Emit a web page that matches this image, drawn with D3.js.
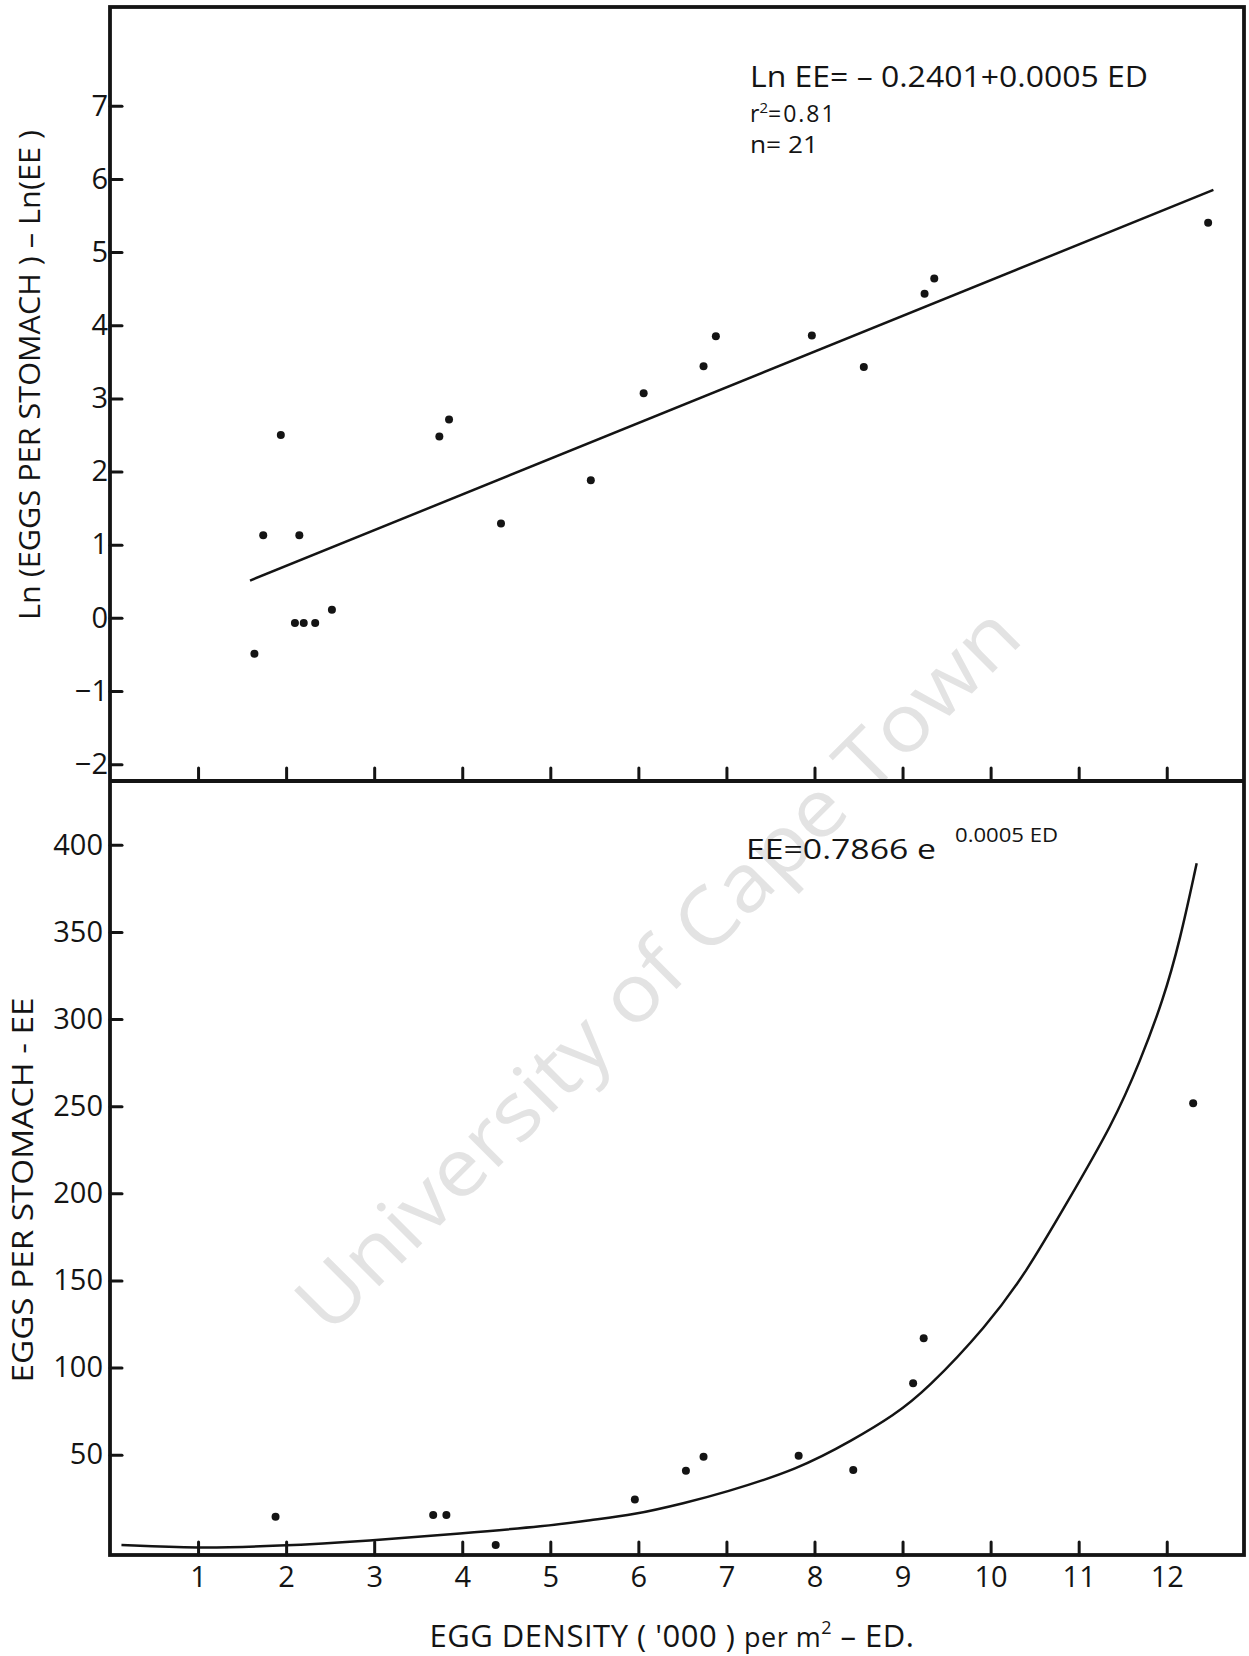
<!DOCTYPE html>
<html>
<head>
<meta charset="utf-8">
<script src="https://cdn.jsdelivr.net/npm/d3@7"></script>
<style>
  body { margin: 0; background: #fff; }
  svg { display: block; font-family: "Open Sans", "DejaVu Sans", sans-serif; }
</style>
</head>
<body>
<svg id="chart"></svg>
<script>
// egg density ('000 per m2)
const topX = [1.64, 1.74, 1.94, 2.10, 2.15, 2.20, 2.33, 2.52, 3.74, 3.85, 4.44, 5.46, 6.06, 6.74, 6.88, 7.97, 8.56, 9.25, 9.36, 12.47];
const topY = [-0.49, 1.13, 2.50, -0.07, 1.13, -0.07, -0.07, 0.11, 2.48, 2.71, 1.29, 1.88, 3.07, 3.44, 3.85, 3.86, 3.43, 4.43, 4.64, 5.40];
const fitLineX = [1.59, 12.53];
const fitLineY = [0.51, 5.85];

const botX = [1.88, 3.67, 3.82, 4.38, 5.96, 6.54, 6.74, 7.82, 8.44, 9.12, 9.24, 12.30];
const botY = [14.4, 15.3, 15.3, -1.9, 24.3, 40.8, 48.8, 49.4, 41.2, 90.9, 116.8, 251.7];
const curveX = [0.13, 0.99, 1.90, 2.95, 3.98, 4.97, 5.45, 5.94, 6.54, 6.95, 7.82, 8.44, 8.90, 9.27, 9.96, 10.41, 10.86, 11.39, 11.70, 11.96, 12.15, 12.34];
const curveY = [-1.9, -3.8, -2.5, 0.6, 4.8, 9.0, 12.5, 15.3, 22.4, 27.8, 41.6, 58.5, 72.5, 87.0, 124.0, 155.0, 194.0, 240.0, 276.0, 311.0, 345.0, 389.4];

const xTicks = [1, 2, 3, 4, 5, 6, 7, 8, 9, 10, 11, 12];
const topYTicks = [-2, -1, 0, 1, 2, 3, 4, 5, 6, 7];
const botYTicks = [50, 100, 150, 200, 250, 300, 350, 400];

const W = 1249, H = 1656;
const ink = "#141414";

const svg = d3.select("#chart").attr("width", W).attr("height", H);
svg.append("rect").attr("width", W).attr("height", H).attr("fill", "#fff");

const x = d3.scaleLinear().domain([0, 12.9]).range([110, 1246]);
const yTop = d3.scaleLinear().domain([-2.23, 8.35]).range([781, 7]);
const yBot = d3.scaleLinear().domain([-7.6, 436.6]).range([1555, 781]);

// watermark
svg.append("text")
    .attr("transform", "translate(655,966) rotate(-45)")
    .attr("text-anchor", "middle")
    .attr("dominant-baseline", "central")
    .attr("font-size", 80)
    .attr("fill", "#e3e3e3")
    .attr("textLength", 985)
    .attr("lengthAdjust", "spacingAndGlyphs")
    .text("University of Cape Town");

function styleAxis(g) {
    g.attr("font-family", null).attr("font-size", 29);
    g.select(".domain").remove();
    g.selectAll(".tick line").attr("stroke", ink).attr("stroke-width", 3).attr("stroke-linecap", "round");
    g.selectAll(".tick text").attr("fill", ink);
}

// top panel axes
svg.append("g")
    .attr("transform", `translate(${x(0)},0)`)
    .call(d3.axisLeft(yTop).tickValues(topYTicks).tickSize(-12).tickPadding(2))
    .call(styleAxis);

svg.append("g")
    .attr("transform", `translate(0,${yTop(-2.23)})`)
    .call(d3.axisBottom(x).tickValues(xTicks).tickSize(-13).tickFormat(""))
    .call(styleAxis);

// bottom panel axes
svg.append("g")
    .attr("transform", `translate(${x(0)},0)`)
    .call(d3.axisLeft(yBot).tickValues(botYTicks).tickSize(-12).tickPadding(7))
    .call(styleAxis);

svg.append("g")
    .attr("transform", `translate(0,${yBot(-7.6)})`)
    .call(d3.axisBottom(x).tickValues(xTicks).tickSize(-13).tickPadding(11))
    .call(styleAxis);

// frame
const frame = svg.append("g").attr("stroke", ink).attr("stroke-width", 3.8).attr("fill", "none");
frame.append("rect")
    .attr("x", x(0)).attr("y", yTop(8.35))
    .attr("width", x(12.9) - x(0) - 2)
    .attr("height", yBot(-7.6) - yTop(8.35));
frame.append("line")
    .attr("x1", x(0)).attr("x2", x(12.9) - 2)
    .attr("y1", yTop(-2.23)).attr("y2", yTop(-2.23));

// top panel: regression line + points
svg.append("line")
    .attr("x1", x(fitLineX[0])).attr("y1", yTop(fitLineY[0]))
    .attr("x2", x(fitLineX[1])).attr("y2", yTop(fitLineY[1]))
    .attr("stroke", ink).attr("stroke-width", 2.5);

svg.append("g").selectAll("circle")
    .data(topX.map((d, i) => [d, topY[i]]))
    .join("circle")
    .attr("cx", d => x(d[0]))
    .attr("cy", d => yTop(d[1]))
    .attr("r", 4)
    .attr("fill", ink);

// bottom panel: fitted curve + points
const curve = d3.line()
    .x(d => x(d[0]))
    .y(d => yBot(d[1]))
    .curve(d3.curveBasis);

svg.append("path")
    .datum(curveX.map((d, i) => [d, curveY[i]]))
    .attr("d", curve)
    .attr("fill", "none")
    .attr("stroke", ink)
    .attr("stroke-width", 2.5);

svg.append("g").selectAll("circle")
    .data(botX.map((d, i) => [d, botY[i]]))
    .join("circle")
    .attr("cx", d => x(d[0]))
    .attr("cy", d => yBot(d[1]))
    .attr("r", 4)
    .attr("fill", ink);

// equations
const eq = svg.append("g").attr("fill", ink);
eq.append("text")
    .attr("x", 750).attr("y", 87)
    .attr("font-size", 30)
    .attr("textLength", 398).attr("lengthAdjust", "spacingAndGlyphs")
    .text("Ln EE= \u2013 0.2401+0.0005 ED");

const r2 = eq.append("text").attr("x", 750).attr("y", 122).attr("font-size", 23);
r2.append("tspan").text("r");
r2.append("tspan").attr("font-size", 15).attr("dy", -9).text("2");
r2.append("tspan").attr("dy", 9).attr("letter-spacing", 2).text("=0.81");

eq.append("text")
    .attr("x", 750).attr("y", 153)
    .attr("font-size", 23)
    .attr("textLength", 68).attr("lengthAdjust", "spacingAndGlyphs")
    .text("n= 21");

eq.append("text")
    .attr("x", 746).attr("y", 859)
    .attr("font-size", 28)
    .attr("textLength", 190).attr("lengthAdjust", "spacingAndGlyphs")
    .text("EE=0.7866 e");
eq.append("text")
    .attr("x", 955).attr("y", 842)
    .attr("font-size", 20)
    .attr("textLength", 103).attr("lengthAdjust", "spacingAndGlyphs")
    .text("0.0005  ED");

// axis titles
const xt = svg.append("text")
    .attr("x", 672).attr("y", 1647)
    .attr("text-anchor", "middle")
    .attr("font-size", 31)
    .attr("letter-spacing", 0.5)
    .attr("fill", ink);
xt.append("tspan").text("EGG DENSITY ( '000 ) ");
xt.append("tspan").attr("font-size", 27).text("per  m");
xt.append("tspan").attr("font-size", 18).attr("dy", -13).text("2");
xt.append("tspan").attr("dy", 13).text(" \u2013 ED.");

svg.append("text")
    .attr("transform", "translate(40,375) rotate(-90)")
    .attr("text-anchor", "middle")
    .attr("font-size", 29)
    .attr("fill", ink)
    .attr("textLength", 490).attr("lengthAdjust", "spacingAndGlyphs")
    .text("Ln (EGGS PER STOMACH ) \u2013 Ln(EE )");

svg.append("text")
    .attr("transform", "translate(33,1190) rotate(-90)")
    .attr("text-anchor", "middle")
    .attr("font-size", 29)
    .attr("fill", ink)
    .attr("textLength", 385).attr("lengthAdjust", "spacingAndGlyphs")
    .text("EGGS PER STOMACH - EE");
</script>
</body>
</html>
